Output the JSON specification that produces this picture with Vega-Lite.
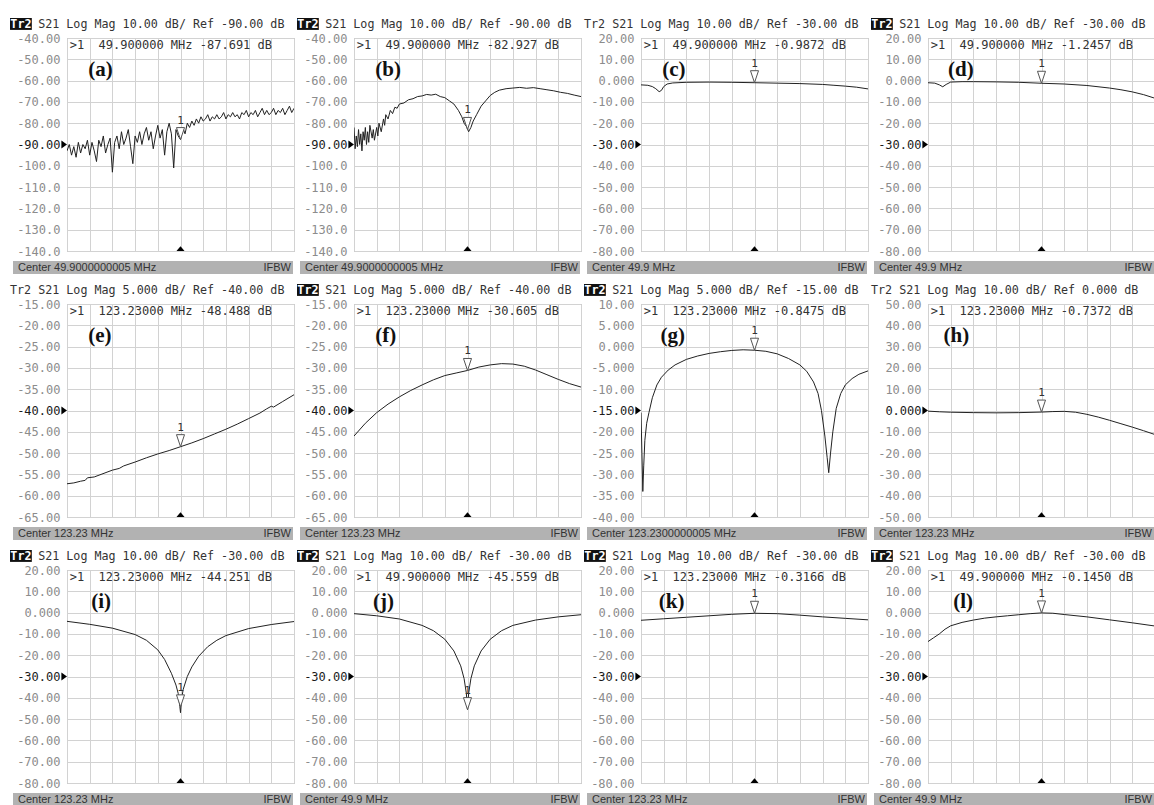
{
"$schema": "https://vega.github.io/schema/vega-lite/v6.json",
"background": "white",
"padding": {"left": 9, "top": 17, "right": 0, "bottom": 0},
"config": {
 "view": {"stroke": "#a8a8a8", "strokeWidth": 1},
 "axisX": {"labels": false, "ticks": false, "domain": false, "grid": true, "gridColor": "#d2d2d2", "tickCount": 10},
 "axisY": {"ticks": false, "tickSize": 0, "domain": false, "grid": true, "gridColor": "#d2d2d2", "tickCount": 10, "labelFont": "DejaVu Sans Mono", "labelFontSize": 12, "labelPadding": 7, "minExtent": 57, "maxExtent": 57, "labelFlush": false, "labelOverlap": false, "labelBound": false,
   "labelExpr": "abs(datum.value) < 1e-9 ? '0.000' : (datum.value < 0 ? '-' : '') + (abs(datum.value) >= 100 ? format(abs(datum.value), '.1f') : abs(datum.value) >= 10 ? format(abs(datum.value), '.2f') : format(abs(datum.value), '.3f'))"},
 "line": {"color": "#222222", "strokeWidth": 1}
},
"datasets": {
 "a": [{"x":0,"y":-93},{"x":0.1,"y":-90},{"x":0.2,"y":-95},{"x":0.3,"y":-91},{"x":0.4,"y":-96},{"x":0.5,"y":-89},{"x":0.6,"y":-94},{"x":0.7,"y":-90},{"x":0.8,"y":-92},{"x":0.9,"y":-88},{"x":1.0,"y":-95},{"x":1.1,"y":-89},{"x":1.2,"y":-93},{"x":1.3,"y":-98},{"x":1.4,"y":-88},{"x":1.5,"y":-91},{"x":1.6,"y":-86},{"x":1.7,"y":-94},{"x":1.8,"y":-90},{"x":1.9,"y":-87},{"x":2.0,"y":-103},{"x":2.1,"y":-89},{"x":2.2,"y":-86},{"x":2.3,"y":-92},{"x":2.4,"y":-84},{"x":2.5,"y":-90},{"x":2.6,"y":-87},{"x":2.7,"y":-83},{"x":2.8,"y":-91},{"x":2.9,"y":-99},{"x":3.0,"y":-86},{"x":3.1,"y":-89},{"x":3.2,"y":-84},{"x":3.3,"y":-90},{"x":3.4,"y":-85},{"x":3.5,"y":-82},{"x":3.6,"y":-88},{"x":3.7,"y":-84},{"x":3.8,"y":-92},{"x":3.9,"y":-86},{"x":4.0,"y":-81},{"x":4.1,"y":-87},{"x":4.2,"y":-83},{"x":4.3,"y":-95},{"x":4.4,"y":-84},{"x":4.5,"y":-80},{"x":4.6,"y":-85},{"x":4.7,"y":-101},{"x":4.8,"y":-83},{"x":4.9,"y":-86},{"x":5.0,"y":-87.7},{"x":5.1,"y":-82},{"x":5.2,"y":-85},{"x":5.3,"y":-80},{"x":5.4,"y":-82},{"x":5.5,"y":-79},{"x":5.6,"y":-81},{"x":5.7,"y":-78},{"x":5.8,"y":-80},{"x":5.9,"y":-77},{"x":6.0,"y":-79},{"x":6.1,"y":-78},{"x":6.2,"y":-76},{"x":6.3,"y":-79},{"x":6.4,"y":-77},{"x":6.5,"y":-78},{"x":6.6,"y":-76},{"x":6.7,"y":-78},{"x":6.8,"y":-77},{"x":6.9,"y":-75},{"x":7.0,"y":-78},{"x":7.1,"y":-76},{"x":7.2,"y":-77},{"x":7.3,"y":-75},{"x":7.4,"y":-77},{"x":7.5,"y":-76},{"x":7.6,"y":-78},{"x":7.7,"y":-75},{"x":7.8,"y":-76},{"x":7.9,"y":-74},{"x":8.0,"y":-77},{"x":8.1,"y":-75},{"x":8.2,"y":-76},{"x":8.3,"y":-74},{"x":8.4,"y":-77},{"x":8.5,"y":-75},{"x":8.6,"y":-73},{"x":8.7,"y":-76},{"x":8.8,"y":-74},{"x":8.9,"y":-76},{"x":9.0,"y":-75},{"x":9.1,"y":-73},{"x":9.2,"y":-76},{"x":9.3,"y":-74},{"x":9.4,"y":-75},{"x":9.5,"y":-73},{"x":9.6,"y":-76},{"x":9.7,"y":-74},{"x":9.8,"y":-72},{"x":9.9,"y":-75},{"x":10.0,"y":-73}],
 "b": [{"x":0,"y":-82},{"x":0.05,"y":-92},{"x":0.1,"y":-86},{"x":0.15,"y":-91},{"x":0.2,"y":-83},{"x":0.25,"y":-90},{"x":0.3,"y":-85},{"x":0.35,"y":-93},{"x":0.4,"y":-84},{"x":0.45,"y":-88},{"x":0.5,"y":-82},{"x":0.55,"y":-90},{"x":0.6,"y":-84},{"x":0.65,"y":-89},{"x":0.7,"y":-81},{"x":0.8,"y":-87},{"x":0.85,"y":-83},{"x":0.9,"y":-88},{"x":1.0,"y":-82},{"x":1.05,"y":-86},{"x":1.1,"y":-80},{"x":1.2,"y":-84},{"x":1.3,"y":-78},{"x":1.35,"y":-81},{"x":1.4,"y":-76},{"x":1.5,"y":-78},{"x":1.6,"y":-74},{"x":1.7,"y":-75.5},{"x":1.8,"y":-72.5},{"x":1.9,"y":-73},{"x":2.0,"y":-71},{"x":2.2,"y":-70.5},{"x":2.4,"y":-69},{"x":2.6,"y":-68.5},{"x":2.8,"y":-67.5},{"x":3.0,"y":-67.2},{"x":3.2,"y":-66.5},{"x":3.4,"y":-66.8},{"x":3.6,"y":-66.4},{"x":3.8,"y":-67.5},{"x":4.0,"y":-68},{"x":4.2,"y":-69.5},{"x":4.4,"y":-71},{"x":4.6,"y":-74},{"x":4.75,"y":-77},{"x":4.85,"y":-80},{"x":4.95,"y":-81.5},{"x":5.05,"y":-84},{"x":5.15,"y":-82},{"x":5.25,"y":-79},{"x":5.4,"y":-76},{"x":5.6,"y":-72},{"x":5.8,"y":-69.5},{"x":6.0,"y":-67},{"x":6.2,"y":-65.5},{"x":6.4,"y":-64.5},{"x":6.7,"y":-63.8},{"x":7.0,"y":-63.5},{"x":7.3,"y":-63.2},{"x":7.6,"y":-63.6},{"x":7.9,"y":-63.3},{"x":8.2,"y":-63.8},{"x":8.5,"y":-64.3},{"x":8.8,"y":-64.8},{"x":9.1,"y":-65.5},{"x":9.4,"y":-66},{"x":9.7,"y":-66.8},{"x":10.0,"y":-67.5}],
 "c": [{"x":0,"y":-2.0},{"x":0.3,"y":-2.2},{"x":0.5,"y":-2.8},{"x":0.65,"y":-3.8},{"x":0.8,"y":-5.2},{"x":0.9,"y":-4.6},{"x":1.0,"y":-2.8},{"x":1.15,"y":-1.6},{"x":1.4,"y":-1.1},{"x":2,"y":-0.8},{"x":3,"y":-0.7},{"x":4,"y":-0.8},{"x":5,"y":-0.99},{"x":6,"y":-1.2},{"x":7,"y":-1.4},{"x":8,"y":-1.8},{"x":8.5,"y":-2.2},{"x":9,"y":-2.6},{"x":9.5,"y":-3.1},{"x":10,"y":-3.9}],
 "d": [{"x":0,"y":-1.0},{"x":0.3,"y":-1.2},{"x":0.5,"y":-2.0},{"x":0.65,"y":-2.9},{"x":0.8,"y":-1.8},{"x":1.0,"y":-0.7},{"x":1.5,"y":-0.5},{"x":2,"y":-0.5},{"x":3,"y":-0.6},{"x":4,"y":-0.8},{"x":5,"y":-1.25},{"x":6,"y":-1.6},{"x":7,"y":-2.3},{"x":8,"y":-3.5},{"x":8.5,"y":-4.3},{"x":9,"y":-5.3},{"x":9.5,"y":-6.6},{"x":10,"y":-8.3}],
 "e": [{"x":0,"y":-57.2},{"x":0.3,"y":-57.0},{"x":0.6,"y":-56.6},{"x":0.8,"y":-56.4},{"x":0.9,"y":-55.8},{"x":1.2,"y":-55.6},{"x":1.5,"y":-55.0},{"x":2,"y":-54.0},{"x":2.3,"y":-53.6},{"x":2.5,"y":-53.0},{"x":3,"y":-52.1},{"x":3.5,"y":-51.1},{"x":4,"y":-50.2},{"x":4.5,"y":-49.4},{"x":5,"y":-48.5},{"x":5.5,"y":-47.6},{"x":6,"y":-46.6},{"x":6.5,"y":-45.5},{"x":7,"y":-44.4},{"x":7.5,"y":-43.2},{"x":8,"y":-41.9},{"x":8.5,"y":-40.6},{"x":8.8,"y":-39.6},{"x":9,"y":-39.0},{"x":9.1,"y":-39.2},{"x":9.5,"y":-37.9},{"x":10,"y":-36.3}],
 "f": [{"x":0,"y":-46},{"x":0.5,"y":-43},{"x":1,"y":-40.5},{"x":1.5,"y":-38.5},{"x":2,"y":-36.8},{"x":2.5,"y":-35.3},{"x":3,"y":-34},{"x":3.5,"y":-32.8},{"x":4,"y":-31.8},{"x":4.5,"y":-31.2},{"x":5,"y":-30.6},{"x":5.5,"y":-29.8},{"x":6,"y":-29.3},{"x":6.5,"y":-29.0},{"x":7,"y":-29.1},{"x":7.5,"y":-29.6},{"x":8,"y":-30.5},{"x":8.5,"y":-31.6},{"x":9,"y":-32.7},{"x":9.5,"y":-33.7},{"x":10,"y":-34.5}],
 "g": [{"x":0,"y":-15.5},{"x":0.04,"y":-25},{"x":0.08,"y":-34},{"x":0.12,"y":-28},{"x":0.17,"y":-22},{"x":0.25,"y":-18},{"x":0.35,"y":-15.5},{"x":0.5,"y":-12},{"x":0.7,"y":-9},{"x":0.9,"y":-7.2},{"x":1.2,"y":-5.5},{"x":1.5,"y":-4.3},{"x":2.0,"y":-3.0},{"x":2.5,"y":-2.2},{"x":3.0,"y":-1.6},{"x":3.5,"y":-1.2},{"x":4.0,"y":-0.9},{"x":4.5,"y":-0.75},{"x":5.0,"y":-0.85},{"x":5.5,"y":-1.1},{"x":6.0,"y":-1.7},{"x":6.5,"y":-2.8},{"x":7.0,"y":-4.3},{"x":7.3,"y":-5.8},{"x":7.6,"y":-8.3},{"x":7.8,"y":-11},{"x":7.95,"y":-15},{"x":8.1,"y":-21},{"x":8.2,"y":-26},{"x":8.27,"y":-29.6},{"x":8.35,"y":-25},{"x":8.45,"y":-20},{"x":8.6,"y":-14.5},{"x":8.8,"y":-11},{"x":9.0,"y":-9},{"x":9.3,"y":-7.5},{"x":9.6,"y":-6.5},{"x":10,"y":-5.7}],
 "h": [{"x":0,"y":-0.3},{"x":0.5,"y":-0.6},{"x":1,"y":-0.8},{"x":2,"y":-1.0},{"x":3,"y":-1.1},{"x":4,"y":-1.0},{"x":5,"y":-0.74},{"x":5.5,"y":-0.5},{"x":6,"y":-0.4},{"x":6.5,"y":-0.8},{"x":7,"y":-1.8},{"x":7.5,"y":-3.1},{"x":8,"y":-4.6},{"x":8.5,"y":-6.2},{"x":9,"y":-7.8},{"x":9.5,"y":-9.5},{"x":10,"y":-11.3}],
 "i": [{"x":0,"y":-4.1},{"x":1,"y":-5.5},{"x":2,"y":-7.3},{"x":3,"y":-10.3},{"x":3.5,"y":-13.0},{"x":4,"y":-17.5},{"x":4.3,"y":-22},{"x":4.6,"y":-28.5},{"x":4.8,"y":-34},{"x":4.9,"y":-38},{"x":4.97,"y":-44},{"x":5.0,"y":-47},{"x":5.04,"y":-41},{"x":5.12,"y":-36},{"x":5.3,"y":-30},{"x":5.5,"y":-25.5},{"x":5.8,"y":-20.5},{"x":6.2,"y":-16},{"x":6.6,"y":-13},{"x":7,"y":-10.8},{"x":8,"y":-7.5},{"x":9,"y":-5.6},{"x":10,"y":-4.2}],
 "j": [{"x":0,"y":-0.5},{"x":1,"y":-1.5},{"x":2,"y":-3},{"x":3,"y":-6},{"x":3.5,"y":-8.5},{"x":4,"y":-12.5},{"x":4.4,"y":-18},{"x":4.7,"y":-25},{"x":4.85,"y":-31},{"x":4.95,"y":-38},{"x":5.0,"y":-45.6},{"x":5.05,"y":-38},{"x":5.15,"y":-31},{"x":5.3,"y":-25},{"x":5.6,"y":-18},{"x":6,"y":-12.5},{"x":6.5,"y":-8.5},{"x":7,"y":-6},{"x":8,"y":-3.5},{"x":9,"y":-2},{"x":10,"y":-1}],
 "k": [{"x":0,"y":-3.6},{"x":1,"y":-2.9},{"x":2,"y":-2.2},{"x":3,"y":-1.5},{"x":4,"y":-0.8},{"x":5,"y":-0.32},{"x":6,"y":-0.5},{"x":7,"y":-1.2},{"x":8,"y":-2.0},{"x":9,"y":-2.7},{"x":10,"y":-3.4}],
 "l": [{"x":0,"y":-13.6},{"x":0.25,"y":-11.8},{"x":0.5,"y":-10},{"x":0.75,"y":-7.8},{"x":1.0,"y":-6.2},{"x":1.5,"y":-4.6},{"x":2,"y":-3.5},{"x":2.5,"y":-2.6},{"x":3,"y":-2},{"x":3.5,"y":-1.5},{"x":4,"y":-1},{"x":4.5,"y":-0.5},{"x":5,"y":-0.145},{"x":5.5,"y":-0.3},{"x":6,"y":-0.9},{"x":7,"y":-2},{"x":8,"y":-3.4},{"x":9,"y":-4.8},{"x":10,"y":-6.3}]
},
"vconcat": [
 {"hconcat": [
  {"vconcat": [
   {"width": 227, "height": 213,
    "layer": [
     {"data": {"name": "a"}, "mark": {"type": "line", "clip": true},
      "encoding": {"x": {"field": "x", "type": "quantitative", "scale": {"domain": [0, 10], "nice": false, "zero": false}, "axis": {"title": null}},
                   "y": {"field": "y", "type": "quantitative", "scale": {"domain": [-140, -40], "nice": false, "zero": false}, "axis": {"title": null, "labelColor": {"condition": {"test": "datum.value == -90", "value": "#1a1a1a"}, "value": "#8c8c8c"}}}}},
     {"data": {"values": [{}]}, "mark": {"type": "rect", "color": "#111111"}, "encoding": {"x": {"datum": -2.51}, "x2": {"datum": -1.55}, "y": {"datum": -30.6}, "y2": {"datum": -36.2}}},
     {"data": {"values": [{}]}, "mark": {"type": "text", "font": "DejaVu Sans Mono", "fontSize": 11.7, "fontWeight": "bold", "color": "#ffffff", "text": "Tr2"}, "encoding": {"x": {"datum": -2.03}, "y": {"datum": -33.4}}},
     {"data": {"values": [{}]}, "mark": {"type": "text", "align": "left", "font": "DejaVu Sans Mono", "fontSize": 11.7, "color": "#333333", "text": "S21 Log Mag 10.00 dB/ Ref -90.00 dB"}, "encoding": {"x": {"datum": -1.27}, "y": {"datum": -33.4}}},
     {"data": {"values": [{}]}, "mark": {"type": "text", "font": "Liberation Serif", "fontWeight": "bold", "fontSize": 21, "color": "#111111", "text": "(a)"}, "encoding": {"x": {"datum": 1.48}, "y": {"datum": -55.2}}},
     {"data": {"values": [{}]}, "mark": {"type": "text", "align": "left", "font": "DejaVu Sans Mono", "fontSize": 12, "color": "#333333", "text": ">1\u00a0\u00a049.900000 MHz -87.691 dB"}, "encoding": {"x": {"datum": 0.12}, "y": {"datum": -43.3}}},
     {"data": {"values": [{"x": 5, "y": -87.691}]}, "mark": {"type": "point", "shape": "M-0.67,-2L0.67,-2L0,0Z", "size": 144, "filled": true, "fill": "white", "stroke": "#555555", "strokeWidth": 1, "opacity": 1}, "encoding": {"x": {"field": "x", "type": "quantitative"}, "y": {"field": "y", "type": "quantitative"}}},
     {"data": {"values": [{"x": 5, "y": -87.691}]}, "mark": {"type": "text", "dy": -19, "font": "DejaVu Sans Mono", "fontSize": 11, "color": "#333333", "text": "1"}, "encoding": {"x": {"field": "x", "type": "quantitative"}, "y": {"field": "y", "type": "quantitative"}}},
     {"data": {"values": [{}]}, "mark": {"type": "point", "shape": "M-1.4,-1L0,0L-1.4,1Z", "size": 64, "filled": true, "color": "#000000", "opacity": 1}, "encoding": {"x": {"datum": 0}, "y": {"datum": -90}}},
     {"data": {"values": [{}]}, "mark": {"type": "point", "shape": "M-1,0L1,0L0,-1.2Z", "size": 64, "filled": true, "color": "#000000", "opacity": 1}, "encoding": {"x": {"datum": 5}, "y": {"datum": -140}}}
    ]},
   {"width": 227, "height": 13, "view": {"stroke": null},
    "layer": [
     {"data": {"values": [{}]}, "mark": {"type": "rect", "color": "#b2b2b2"}, "encoding": {"x": {"datum": 0, "scale": {"domain": [0, 1], "range": [-54, 226]}, "axis": null}, "x2": {"datum": 1}, "y": {"datum": 0, "scale": {"domain": [0, 1]}, "axis": null}, "y2": {"datum": 1}}},
     {"data": {"values": [{}]}, "mark": {"type": "text", "align": "left", "dx": 5, "font": "Liberation Sans", "fontSize": 11, "color": "#333333", "text": "Center 49.9000000005 MHz"}, "encoding": {"x": {"datum": 0}, "y": {"datum": 0.5}}},
     {"data": {"values": [{}]}, "mark": {"type": "text", "align": "right", "dx": -2, "font": "Liberation Sans", "fontSize": 11, "color": "#333333", "text": "IFBW"}, "encoding": {"x": {"datum": 1}, "y": {"datum": 0.5}}}
    ]}
  ], "spacing": 3},
  {"vconcat": [
   {"width": 227, "height": 213,
    "layer": [
     {"data": {"name": "b"}, "mark": {"type": "line", "clip": true},
      "encoding": {"x": {"field": "x", "type": "quantitative", "scale": {"domain": [0, 10], "nice": false, "zero": false}, "axis": {"title": null}},
                   "y": {"field": "y", "type": "quantitative", "scale": {"domain": [-140, -40], "nice": false, "zero": false}, "axis": {"title": null, "labelColor": {"condition": {"test": "datum.value == -90", "value": "#1a1a1a"}, "value": "#8c8c8c"}}}}},
     {"data": {"values": [{}]}, "mark": {"type": "rect", "color": "#111111"}, "encoding": {"x": {"datum": -2.51}, "x2": {"datum": -1.55}, "y": {"datum": -30.6}, "y2": {"datum": -36.2}}},
     {"data": {"values": [{}]}, "mark": {"type": "text", "font": "DejaVu Sans Mono", "fontSize": 11.7, "fontWeight": "bold", "color": "#ffffff", "text": "Tr2"}, "encoding": {"x": {"datum": -2.03}, "y": {"datum": -33.4}}},
     {"data": {"values": [{}]}, "mark": {"type": "text", "align": "left", "font": "DejaVu Sans Mono", "fontSize": 11.7, "color": "#333333", "text": "S21 Log Mag 10.00 dB/ Ref -90.00 dB"}, "encoding": {"x": {"datum": -1.27}, "y": {"datum": -33.4}}},
     {"data": {"values": [{}]}, "mark": {"type": "text", "font": "Liberation Serif", "fontWeight": "bold", "fontSize": 21, "color": "#111111", "text": "(b)"}, "encoding": {"x": {"datum": 1.5}, "y": {"datum": -55.2}}},
     {"data": {"values": [{}]}, "mark": {"type": "text", "align": "left", "font": "DejaVu Sans Mono", "fontSize": 12, "color": "#333333", "text": ">1\u00a0\u00a049.900000 MHz -82.927 dB"}, "encoding": {"x": {"datum": 0.12}, "y": {"datum": -43.3}}},
     {"data": {"values": [{"x": 5, "y": -82.927}]}, "mark": {"type": "point", "shape": "M-0.67,-2L0.67,-2L0,0Z", "size": 144, "filled": true, "fill": "white", "stroke": "#555555", "strokeWidth": 1, "opacity": 1}, "encoding": {"x": {"field": "x", "type": "quantitative"}, "y": {"field": "y", "type": "quantitative"}}},
     {"data": {"values": [{"x": 5, "y": -82.927}]}, "mark": {"type": "text", "dy": -19, "font": "DejaVu Sans Mono", "fontSize": 11, "color": "#333333", "text": "1"}, "encoding": {"x": {"field": "x", "type": "quantitative"}, "y": {"field": "y", "type": "quantitative"}}},
     {"data": {"values": [{}]}, "mark": {"type": "point", "shape": "M-1.4,-1L0,0L-1.4,1Z", "size": 64, "filled": true, "color": "#000000", "opacity": 1}, "encoding": {"x": {"datum": 0}, "y": {"datum": -90}}},
     {"data": {"values": [{}]}, "mark": {"type": "point", "shape": "M-1,0L1,0L0,-1.2Z", "size": 64, "filled": true, "color": "#000000", "opacity": 1}, "encoding": {"x": {"datum": 5}, "y": {"datum": -140}}}
    ]},
   {"width": 227, "height": 13, "view": {"stroke": null},
    "layer": [
     {"data": {"values": [{}]}, "mark": {"type": "rect", "color": "#b2b2b2"}, "encoding": {"x": {"datum": 0, "scale": {"domain": [0, 1], "range": [-54, 226]}, "axis": null}, "x2": {"datum": 1}, "y": {"datum": 0, "scale": {"domain": [0, 1]}, "axis": null}, "y2": {"datum": 1}}},
     {"data": {"values": [{}]}, "mark": {"type": "text", "align": "left", "dx": 5, "font": "Liberation Sans", "fontSize": 11, "color": "#333333", "text": "Center 49.9000000005 MHz"}, "encoding": {"x": {"datum": 0}, "y": {"datum": 0.5}}},
     {"data": {"values": [{}]}, "mark": {"type": "text", "align": "right", "dx": -2, "font": "Liberation Sans", "fontSize": 11, "color": "#333333", "text": "IFBW"}, "encoding": {"x": {"datum": 1}, "y": {"datum": 0.5}}}
    ]}
  ], "spacing": 3},
  {"vconcat": [
   {"width": 227, "height": 213,
    "layer": [
     {"data": {"name": "c"}, "mark": {"type": "line", "clip": true},
      "encoding": {"x": {"field": "x", "type": "quantitative", "scale": {"domain": [0, 10], "nice": false, "zero": false}, "axis": {"title": null}},
                   "y": {"field": "y", "type": "quantitative", "scale": {"domain": [-80, 20], "nice": false, "zero": false}, "axis": {"title": null, "labelColor": {"condition": {"test": "datum.value == -30", "value": "#1a1a1a"}, "value": "#8c8c8c"}}}}},
     {"data": {"values": [{}]}, "mark": {"type": "text", "align": "left", "font": "DejaVu Sans Mono", "fontSize": 11.7, "color": "#333333", "text": "Tr2 S21 Log Mag 10.00 dB/ Ref -30.00 dB"}, "encoding": {"x": {"datum": -2.51}, "y": {"datum": 26.6}}},
     {"data": {"values": [{}]}, "mark": {"type": "text", "font": "Liberation Serif", "fontWeight": "bold", "fontSize": 21, "color": "#111111", "text": "(c)"}, "encoding": {"x": {"datum": 1.45}, "y": {"datum": 4.8}}},
     {"data": {"values": [{}]}, "mark": {"type": "text", "align": "left", "font": "DejaVu Sans Mono", "fontSize": 12, "color": "#333333", "text": ">1\u00a0\u00a049.900000 MHz -0.9872 dB"}, "encoding": {"x": {"datum": 0.12}, "y": {"datum": 16.7}}},
     {"data": {"values": [{"x": 5, "y": -0.9872}]}, "mark": {"type": "point", "shape": "M-0.67,-2L0.67,-2L0,0Z", "size": 144, "filled": true, "fill": "white", "stroke": "#555555", "strokeWidth": 1, "opacity": 1}, "encoding": {"x": {"field": "x", "type": "quantitative"}, "y": {"field": "y", "type": "quantitative"}}},
     {"data": {"values": [{"x": 5, "y": -0.9872}]}, "mark": {"type": "text", "dy": -19, "font": "DejaVu Sans Mono", "fontSize": 11, "color": "#333333", "text": "1"}, "encoding": {"x": {"field": "x", "type": "quantitative"}, "y": {"field": "y", "type": "quantitative"}}},
     {"data": {"values": [{}]}, "mark": {"type": "point", "shape": "M-1.4,-1L0,0L-1.4,1Z", "size": 64, "filled": true, "color": "#000000", "opacity": 1}, "encoding": {"x": {"datum": 0}, "y": {"datum": -30}}},
     {"data": {"values": [{}]}, "mark": {"type": "point", "shape": "M-1,0L1,0L0,-1.2Z", "size": 64, "filled": true, "color": "#000000", "opacity": 1}, "encoding": {"x": {"datum": 5}, "y": {"datum": -80}}}
    ]},
   {"width": 227, "height": 13, "view": {"stroke": null},
    "layer": [
     {"data": {"values": [{}]}, "mark": {"type": "rect", "color": "#b2b2b2"}, "encoding": {"x": {"datum": 0, "scale": {"domain": [0, 1], "range": [-54, 226]}, "axis": null}, "x2": {"datum": 1}, "y": {"datum": 0, "scale": {"domain": [0, 1]}, "axis": null}, "y2": {"datum": 1}}},
     {"data": {"values": [{}]}, "mark": {"type": "text", "align": "left", "dx": 5, "font": "Liberation Sans", "fontSize": 11, "color": "#333333", "text": "Center 49.9 MHz"}, "encoding": {"x": {"datum": 0}, "y": {"datum": 0.5}}},
     {"data": {"values": [{}]}, "mark": {"type": "text", "align": "right", "dx": -2, "font": "Liberation Sans", "fontSize": 11, "color": "#333333", "text": "IFBW"}, "encoding": {"x": {"datum": 1}, "y": {"datum": 0.5}}}
    ]}
  ], "spacing": 3},
  {"vconcat": [
   {"width": 227, "height": 213,
    "layer": [
     {"data": {"name": "d"}, "mark": {"type": "line", "clip": true},
      "encoding": {"x": {"field": "x", "type": "quantitative", "scale": {"domain": [0, 10], "nice": false, "zero": false}, "axis": {"title": null}},
                   "y": {"field": "y", "type": "quantitative", "scale": {"domain": [-80, 20], "nice": false, "zero": false}, "axis": {"title": null, "labelColor": {"condition": {"test": "datum.value == -30", "value": "#1a1a1a"}, "value": "#8c8c8c"}}}}},
     {"data": {"values": [{}]}, "mark": {"type": "rect", "color": "#111111"}, "encoding": {"x": {"datum": -2.51}, "x2": {"datum": -1.55}, "y": {"datum": 29.4}, "y2": {"datum": 23.8}}},
     {"data": {"values": [{}]}, "mark": {"type": "text", "font": "DejaVu Sans Mono", "fontSize": 11.7, "fontWeight": "bold", "color": "#ffffff", "text": "Tr2"}, "encoding": {"x": {"datum": -2.03}, "y": {"datum": 26.6}}},
     {"data": {"values": [{}]}, "mark": {"type": "text", "align": "left", "font": "DejaVu Sans Mono", "fontSize": 11.7, "color": "#333333", "text": "S21 Log Mag 10.00 dB/ Ref -30.00 dB"}, "encoding": {"x": {"datum": -1.27}, "y": {"datum": 26.6}}},
     {"data": {"values": [{}]}, "mark": {"type": "text", "font": "Liberation Serif", "fontWeight": "bold", "fontSize": 21, "color": "#111111", "text": "(d)"}, "encoding": {"x": {"datum": 1.45}, "y": {"datum": 4.8}}},
     {"data": {"values": [{}]}, "mark": {"type": "text", "align": "left", "font": "DejaVu Sans Mono", "fontSize": 12, "color": "#333333", "text": ">1\u00a0\u00a049.900000 MHz -1.2457 dB"}, "encoding": {"x": {"datum": 0.12}, "y": {"datum": 16.7}}},
     {"data": {"values": [{"x": 5, "y": -1.2457}]}, "mark": {"type": "point", "shape": "M-0.67,-2L0.67,-2L0,0Z", "size": 144, "filled": true, "fill": "white", "stroke": "#555555", "strokeWidth": 1, "opacity": 1}, "encoding": {"x": {"field": "x", "type": "quantitative"}, "y": {"field": "y", "type": "quantitative"}}},
     {"data": {"values": [{"x": 5, "y": -1.2457}]}, "mark": {"type": "text", "dy": -19, "font": "DejaVu Sans Mono", "fontSize": 11, "color": "#333333", "text": "1"}, "encoding": {"x": {"field": "x", "type": "quantitative"}, "y": {"field": "y", "type": "quantitative"}}},
     {"data": {"values": [{}]}, "mark": {"type": "point", "shape": "M-1.4,-1L0,0L-1.4,1Z", "size": 64, "filled": true, "color": "#000000", "opacity": 1}, "encoding": {"x": {"datum": 0}, "y": {"datum": -30}}},
     {"data": {"values": [{}]}, "mark": {"type": "point", "shape": "M-1,0L1,0L0,-1.2Z", "size": 64, "filled": true, "color": "#000000", "opacity": 1}, "encoding": {"x": {"datum": 5}, "y": {"datum": -80}}}
    ]},
   {"width": 227, "height": 13, "view": {"stroke": null},
    "layer": [
     {"data": {"values": [{}]}, "mark": {"type": "rect", "color": "#b2b2b2"}, "encoding": {"x": {"datum": 0, "scale": {"domain": [0, 1], "range": [-54, 226]}, "axis": null}, "x2": {"datum": 1}, "y": {"datum": 0, "scale": {"domain": [0, 1]}, "axis": null}, "y2": {"datum": 1}}},
     {"data": {"values": [{}]}, "mark": {"type": "text", "align": "left", "dx": 5, "font": "Liberation Sans", "fontSize": 11, "color": "#333333", "text": "Center 49.9 MHz"}, "encoding": {"x": {"datum": 0}, "y": {"datum": 0.5}}},
     {"data": {"values": [{}]}, "mark": {"type": "text", "align": "right", "dx": -2, "font": "Liberation Sans", "fontSize": 11, "color": "#333333", "text": "IFBW"}, "encoding": {"x": {"datum": 1}, "y": {"datum": 0.5}}}
    ]}
  ], "spacing": 3}
 ], "spacing": 1},
 {"hconcat": [
  {"vconcat": [
   {"width": 227, "height": 213,
    "layer": [
     {"data": {"name": "e"}, "mark": {"type": "line", "clip": true},
      "encoding": {"x": {"field": "x", "type": "quantitative", "scale": {"domain": [0, 10], "nice": false, "zero": false}, "axis": {"title": null}},
                   "y": {"field": "y", "type": "quantitative", "scale": {"domain": [-65, -15], "nice": false, "zero": false}, "axis": {"title": null, "labelColor": {"condition": {"test": "datum.value == -40", "value": "#1a1a1a"}, "value": "#8c8c8c"}}}}},
     {"data": {"values": [{}]}, "mark": {"type": "text", "align": "left", "font": "DejaVu Sans Mono", "fontSize": 11.7, "color": "#333333", "text": "Tr2 S21 Log Mag 5.000 dB/ Ref -40.00 dB"}, "encoding": {"x": {"datum": -2.51}, "y": {"datum": -11.7}}},
     {"data": {"values": [{}]}, "mark": {"type": "text", "font": "Liberation Serif", "fontWeight": "bold", "fontSize": 21, "color": "#111111", "text": "(e)"}, "encoding": {"x": {"datum": 1.45}, "y": {"datum": -22.6}}},
     {"data": {"values": [{}]}, "mark": {"type": "text", "align": "left", "font": "DejaVu Sans Mono", "fontSize": 12, "color": "#333333", "text": ">1\u00a0\u00a0123.23000 MHz -48.488 dB"}, "encoding": {"x": {"datum": 0.12}, "y": {"datum": -16.65}}},
     {"data": {"values": [{"x": 5, "y": -48.488}]}, "mark": {"type": "point", "shape": "M-0.67,-2L0.67,-2L0,0Z", "size": 144, "filled": true, "fill": "white", "stroke": "#555555", "strokeWidth": 1, "opacity": 1}, "encoding": {"x": {"field": "x", "type": "quantitative"}, "y": {"field": "y", "type": "quantitative"}}},
     {"data": {"values": [{"x": 5, "y": -48.488}]}, "mark": {"type": "text", "dy": -19, "font": "DejaVu Sans Mono", "fontSize": 11, "color": "#333333", "text": "1"}, "encoding": {"x": {"field": "x", "type": "quantitative"}, "y": {"field": "y", "type": "quantitative"}}},
     {"data": {"values": [{}]}, "mark": {"type": "point", "shape": "M-1.4,-1L0,0L-1.4,1Z", "size": 64, "filled": true, "color": "#000000", "opacity": 1}, "encoding": {"x": {"datum": 0}, "y": {"datum": -40}}},
     {"data": {"values": [{}]}, "mark": {"type": "point", "shape": "M-1,0L1,0L0,-1.2Z", "size": 64, "filled": true, "color": "#000000", "opacity": 1}, "encoding": {"x": {"datum": 5}, "y": {"datum": -65}}}
    ]},
   {"width": 227, "height": 13, "view": {"stroke": null},
    "layer": [
     {"data": {"values": [{}]}, "mark": {"type": "rect", "color": "#b2b2b2"}, "encoding": {"x": {"datum": 0, "scale": {"domain": [0, 1], "range": [-54, 226]}, "axis": null}, "x2": {"datum": 1}, "y": {"datum": 0, "scale": {"domain": [0, 1]}, "axis": null}, "y2": {"datum": 1}}},
     {"data": {"values": [{}]}, "mark": {"type": "text", "align": "left", "dx": 5, "font": "Liberation Sans", "fontSize": 11, "color": "#333333", "text": "Center 123.23 MHz"}, "encoding": {"x": {"datum": 0}, "y": {"datum": 0.5}}},
     {"data": {"values": [{}]}, "mark": {"type": "text", "align": "right", "dx": -2, "font": "Liberation Sans", "fontSize": 11, "color": "#333333", "text": "IFBW"}, "encoding": {"x": {"datum": 1}, "y": {"datum": 0.5}}}
    ]}
  ], "spacing": 3},
  {"vconcat": [
   {"width": 227, "height": 213,
    "layer": [
     {"data": {"name": "f"}, "mark": {"type": "line", "clip": true},
      "encoding": {"x": {"field": "x", "type": "quantitative", "scale": {"domain": [0, 10], "nice": false, "zero": false}, "axis": {"title": null}},
                   "y": {"field": "y", "type": "quantitative", "scale": {"domain": [-65, -15], "nice": false, "zero": false}, "axis": {"title": null, "labelColor": {"condition": {"test": "datum.value == -40", "value": "#1a1a1a"}, "value": "#8c8c8c"}}}}},
     {"data": {"values": [{}]}, "mark": {"type": "rect", "color": "#111111"}, "encoding": {"x": {"datum": -2.51}, "x2": {"datum": -1.55}, "y": {"datum": -10.3}, "y2": {"datum": -13.1}}},
     {"data": {"values": [{}]}, "mark": {"type": "text", "font": "DejaVu Sans Mono", "fontSize": 11.7, "fontWeight": "bold", "color": "#ffffff", "text": "Tr2"}, "encoding": {"x": {"datum": -2.03}, "y": {"datum": -11.7}}},
     {"data": {"values": [{}]}, "mark": {"type": "text", "align": "left", "font": "DejaVu Sans Mono", "fontSize": 11.7, "color": "#333333", "text": "S21 Log Mag 5.000 dB/ Ref -40.00 dB"}, "encoding": {"x": {"datum": -1.27}, "y": {"datum": -11.7}}},
     {"data": {"values": [{}]}, "mark": {"type": "text", "font": "Liberation Serif", "fontWeight": "bold", "fontSize": 21, "color": "#111111", "text": "(f)"}, "encoding": {"x": {"datum": 1.4}, "y": {"datum": -22.6}}},
     {"data": {"values": [{}]}, "mark": {"type": "text", "align": "left", "font": "DejaVu Sans Mono", "fontSize": 12, "color": "#333333", "text": ">1\u00a0\u00a0123.23000 MHz -30.605 dB"}, "encoding": {"x": {"datum": 0.12}, "y": {"datum": -16.65}}},
     {"data": {"values": [{"x": 5, "y": -30.605}]}, "mark": {"type": "point", "shape": "M-0.67,-2L0.67,-2L0,0Z", "size": 144, "filled": true, "fill": "white", "stroke": "#555555", "strokeWidth": 1, "opacity": 1}, "encoding": {"x": {"field": "x", "type": "quantitative"}, "y": {"field": "y", "type": "quantitative"}}},
     {"data": {"values": [{"x": 5, "y": -30.605}]}, "mark": {"type": "text", "dy": -19, "font": "DejaVu Sans Mono", "fontSize": 11, "color": "#333333", "text": "1"}, "encoding": {"x": {"field": "x", "type": "quantitative"}, "y": {"field": "y", "type": "quantitative"}}},
     {"data": {"values": [{}]}, "mark": {"type": "point", "shape": "M-1.4,-1L0,0L-1.4,1Z", "size": 64, "filled": true, "color": "#000000", "opacity": 1}, "encoding": {"x": {"datum": 0}, "y": {"datum": -40}}},
     {"data": {"values": [{}]}, "mark": {"type": "point", "shape": "M-1,0L1,0L0,-1.2Z", "size": 64, "filled": true, "color": "#000000", "opacity": 1}, "encoding": {"x": {"datum": 5}, "y": {"datum": -65}}}
    ]},
   {"width": 227, "height": 13, "view": {"stroke": null},
    "layer": [
     {"data": {"values": [{}]}, "mark": {"type": "rect", "color": "#b2b2b2"}, "encoding": {"x": {"datum": 0, "scale": {"domain": [0, 1], "range": [-54, 226]}, "axis": null}, "x2": {"datum": 1}, "y": {"datum": 0, "scale": {"domain": [0, 1]}, "axis": null}, "y2": {"datum": 1}}},
     {"data": {"values": [{}]}, "mark": {"type": "text", "align": "left", "dx": 5, "font": "Liberation Sans", "fontSize": 11, "color": "#333333", "text": "Center 123.23 MHz"}, "encoding": {"x": {"datum": 0}, "y": {"datum": 0.5}}},
     {"data": {"values": [{}]}, "mark": {"type": "text", "align": "right", "dx": -2, "font": "Liberation Sans", "fontSize": 11, "color": "#333333", "text": "IFBW"}, "encoding": {"x": {"datum": 1}, "y": {"datum": 0.5}}}
    ]}
  ], "spacing": 3},
  {"vconcat": [
   {"width": 227, "height": 213,
    "layer": [
     {"data": {"name": "g"}, "mark": {"type": "line", "clip": true},
      "encoding": {"x": {"field": "x", "type": "quantitative", "scale": {"domain": [0, 10], "nice": false, "zero": false}, "axis": {"title": null}},
                   "y": {"field": "y", "type": "quantitative", "scale": {"domain": [-40, 10], "nice": false, "zero": false}, "axis": {"title": null, "labelColor": {"condition": {"test": "datum.value == -15", "value": "#1a1a1a"}, "value": "#8c8c8c"}}}}},
     {"data": {"values": [{}]}, "mark": {"type": "rect", "color": "#111111"}, "encoding": {"x": {"datum": -2.51}, "x2": {"datum": -1.55}, "y": {"datum": 14.7}, "y2": {"datum": 11.9}}},
     {"data": {"values": [{}]}, "mark": {"type": "text", "font": "DejaVu Sans Mono", "fontSize": 11.7, "fontWeight": "bold", "color": "#ffffff", "text": "Tr2"}, "encoding": {"x": {"datum": -2.03}, "y": {"datum": 13.3}}},
     {"data": {"values": [{}]}, "mark": {"type": "text", "align": "left", "font": "DejaVu Sans Mono", "fontSize": 11.7, "color": "#333333", "text": "S21 Log Mag 5.000 dB/ Ref -15.00 dB"}, "encoding": {"x": {"datum": -1.27}, "y": {"datum": 13.3}}},
     {"data": {"values": [{}]}, "mark": {"type": "text", "font": "Liberation Serif", "fontWeight": "bold", "fontSize": 21, "color": "#111111", "text": "(g)"}, "encoding": {"x": {"datum": 1.4}, "y": {"datum": 2.4}}},
     {"data": {"values": [{}]}, "mark": {"type": "text", "align": "left", "font": "DejaVu Sans Mono", "fontSize": 12, "color": "#333333", "text": ">1\u00a0\u00a0123.23000 MHz -0.8475 dB"}, "encoding": {"x": {"datum": 0.12}, "y": {"datum": 8.35}}},
     {"data": {"values": [{"x": 5, "y": -0.8475}]}, "mark": {"type": "point", "shape": "M-0.67,-2L0.67,-2L0,0Z", "size": 144, "filled": true, "fill": "white", "stroke": "#555555", "strokeWidth": 1, "opacity": 1}, "encoding": {"x": {"field": "x", "type": "quantitative"}, "y": {"field": "y", "type": "quantitative"}}},
     {"data": {"values": [{"x": 5, "y": -0.8475}]}, "mark": {"type": "text", "dy": -19, "font": "DejaVu Sans Mono", "fontSize": 11, "color": "#333333", "text": "1"}, "encoding": {"x": {"field": "x", "type": "quantitative"}, "y": {"field": "y", "type": "quantitative"}}},
     {"data": {"values": [{}]}, "mark": {"type": "point", "shape": "M-1.4,-1L0,0L-1.4,1Z", "size": 64, "filled": true, "color": "#000000", "opacity": 1}, "encoding": {"x": {"datum": 0}, "y": {"datum": -15}}},
     {"data": {"values": [{}]}, "mark": {"type": "point", "shape": "M-1,0L1,0L0,-1.2Z", "size": 64, "filled": true, "color": "#000000", "opacity": 1}, "encoding": {"x": {"datum": 5}, "y": {"datum": -40}}}
    ]},
   {"width": 227, "height": 13, "view": {"stroke": null},
    "layer": [
     {"data": {"values": [{}]}, "mark": {"type": "rect", "color": "#b2b2b2"}, "encoding": {"x": {"datum": 0, "scale": {"domain": [0, 1], "range": [-54, 226]}, "axis": null}, "x2": {"datum": 1}, "y": {"datum": 0, "scale": {"domain": [0, 1]}, "axis": null}, "y2": {"datum": 1}}},
     {"data": {"values": [{}]}, "mark": {"type": "text", "align": "left", "dx": 5, "font": "Liberation Sans", "fontSize": 11, "color": "#333333", "text": "Center 123.2300000005 MHz"}, "encoding": {"x": {"datum": 0}, "y": {"datum": 0.5}}},
     {"data": {"values": [{}]}, "mark": {"type": "text", "align": "right", "dx": -2, "font": "Liberation Sans", "fontSize": 11, "color": "#333333", "text": "IFBW"}, "encoding": {"x": {"datum": 1}, "y": {"datum": 0.5}}}
    ]}
  ], "spacing": 3},
  {"vconcat": [
   {"width": 227, "height": 213,
    "layer": [
     {"data": {"name": "h"}, "mark": {"type": "line", "clip": true},
      "encoding": {"x": {"field": "x", "type": "quantitative", "scale": {"domain": [0, 10], "nice": false, "zero": false}, "axis": {"title": null}},
                   "y": {"field": "y", "type": "quantitative", "scale": {"domain": [-50, 50], "nice": false, "zero": false}, "axis": {"title": null, "labelColor": {"condition": {"test": "abs(datum.value) < 1e-9", "value": "#1a1a1a"}, "value": "#8c8c8c"}}}}},
     {"data": {"values": [{}]}, "mark": {"type": "text", "align": "left", "font": "DejaVu Sans Mono", "fontSize": 11.7, "color": "#333333", "text": "Tr2 S21 Log Mag 10.00 dB/ Ref 0.000 dB"}, "encoding": {"x": {"datum": -2.51}, "y": {"datum": 56.6}}},
     {"data": {"values": [{}]}, "mark": {"type": "text", "font": "Liberation Serif", "fontWeight": "bold", "fontSize": 21, "color": "#111111", "text": "(h)"}, "encoding": {"x": {"datum": 1.25}, "y": {"datum": 34.8}}},
     {"data": {"values": [{}]}, "mark": {"type": "text", "align": "left", "font": "DejaVu Sans Mono", "fontSize": 12, "color": "#333333", "text": ">1\u00a0\u00a0123.23000 MHz -0.7372 dB"}, "encoding": {"x": {"datum": 0.12}, "y": {"datum": 46.7}}},
     {"data": {"values": [{"x": 5, "y": -0.7372}]}, "mark": {"type": "point", "shape": "M-0.67,-2L0.67,-2L0,0Z", "size": 144, "filled": true, "fill": "white", "stroke": "#555555", "strokeWidth": 1, "opacity": 1}, "encoding": {"x": {"field": "x", "type": "quantitative"}, "y": {"field": "y", "type": "quantitative"}}},
     {"data": {"values": [{"x": 5, "y": -0.7372}]}, "mark": {"type": "text", "dy": -19, "font": "DejaVu Sans Mono", "fontSize": 11, "color": "#333333", "text": "1"}, "encoding": {"x": {"field": "x", "type": "quantitative"}, "y": {"field": "y", "type": "quantitative"}}},
     {"data": {"values": [{}]}, "mark": {"type": "point", "shape": "M-1.4,-1L0,0L-1.4,1Z", "size": 64, "filled": true, "color": "#000000", "opacity": 1}, "encoding": {"x": {"datum": 0}, "y": {"datum": 0}}},
     {"data": {"values": [{}]}, "mark": {"type": "point", "shape": "M-1,0L1,0L0,-1.2Z", "size": 64, "filled": true, "color": "#000000", "opacity": 1}, "encoding": {"x": {"datum": 5}, "y": {"datum": -50}}}
    ]},
   {"width": 227, "height": 13, "view": {"stroke": null},
    "layer": [
     {"data": {"values": [{}]}, "mark": {"type": "rect", "color": "#b2b2b2"}, "encoding": {"x": {"datum": 0, "scale": {"domain": [0, 1], "range": [-54, 226]}, "axis": null}, "x2": {"datum": 1}, "y": {"datum": 0, "scale": {"domain": [0, 1]}, "axis": null}, "y2": {"datum": 1}}},
     {"data": {"values": [{}]}, "mark": {"type": "text", "align": "left", "dx": 5, "font": "Liberation Sans", "fontSize": 11, "color": "#333333", "text": "Center 123.23 MHz"}, "encoding": {"x": {"datum": 0}, "y": {"datum": 0.5}}},
     {"data": {"values": [{}]}, "mark": {"type": "text", "align": "right", "dx": -2, "font": "Liberation Sans", "fontSize": 11, "color": "#333333", "text": "IFBW"}, "encoding": {"x": {"datum": 1}, "y": {"datum": 0.5}}}
    ]}
  ], "spacing": 3}
 ], "spacing": 1},
 {"hconcat": [
  {"vconcat": [
   {"width": 227, "height": 213,
    "layer": [
     {"data": {"name": "i"}, "mark": {"type": "line", "clip": true},
      "encoding": {"x": {"field": "x", "type": "quantitative", "scale": {"domain": [0, 10], "nice": false, "zero": false}, "axis": {"title": null}},
                   "y": {"field": "y", "type": "quantitative", "scale": {"domain": [-80, 20], "nice": false, "zero": false}, "axis": {"title": null, "labelColor": {"condition": {"test": "datum.value == -30", "value": "#1a1a1a"}, "value": "#8c8c8c"}}}}},
     {"data": {"values": [{}]}, "mark": {"type": "rect", "color": "#111111"}, "encoding": {"x": {"datum": -2.51}, "x2": {"datum": -1.55}, "y": {"datum": 29.4}, "y2": {"datum": 23.8}}},
     {"data": {"values": [{}]}, "mark": {"type": "text", "font": "DejaVu Sans Mono", "fontSize": 11.7, "fontWeight": "bold", "color": "#ffffff", "text": "Tr2"}, "encoding": {"x": {"datum": -2.03}, "y": {"datum": 26.6}}},
     {"data": {"values": [{}]}, "mark": {"type": "text", "align": "left", "font": "DejaVu Sans Mono", "fontSize": 11.7, "color": "#333333", "text": "S21 Log Mag 10.00 dB/ Ref -30.00 dB"}, "encoding": {"x": {"datum": -1.27}, "y": {"datum": 26.6}}},
     {"data": {"values": [{}]}, "mark": {"type": "text", "font": "Liberation Serif", "fontWeight": "bold", "fontSize": 21, "color": "#111111", "text": "(i)"}, "encoding": {"x": {"datum": 1.5}, "y": {"datum": 4.8}}},
     {"data": {"values": [{}]}, "mark": {"type": "text", "align": "left", "font": "DejaVu Sans Mono", "fontSize": 12, "color": "#333333", "text": ">1\u00a0\u00a0123.23000 MHz -44.251 dB"}, "encoding": {"x": {"datum": 0.12}, "y": {"datum": 16.7}}},
     {"data": {"values": [{"x": 5, "y": -44.251}]}, "mark": {"type": "point", "shape": "M-0.67,-2L0.67,-2L0,0Z", "size": 144, "filled": true, "fill": "white", "stroke": "#555555", "strokeWidth": 1, "opacity": 1}, "encoding": {"x": {"field": "x", "type": "quantitative"}, "y": {"field": "y", "type": "quantitative"}}},
     {"data": {"values": [{"x": 5, "y": -44.251}]}, "mark": {"type": "text", "dy": -19, "font": "DejaVu Sans Mono", "fontSize": 11, "color": "#333333", "text": "1"}, "encoding": {"x": {"field": "x", "type": "quantitative"}, "y": {"field": "y", "type": "quantitative"}}},
     {"data": {"values": [{}]}, "mark": {"type": "point", "shape": "M-1.4,-1L0,0L-1.4,1Z", "size": 64, "filled": true, "color": "#000000", "opacity": 1}, "encoding": {"x": {"datum": 0}, "y": {"datum": -30}}},
     {"data": {"values": [{}]}, "mark": {"type": "point", "shape": "M-1,0L1,0L0,-1.2Z", "size": 64, "filled": true, "color": "#000000", "opacity": 1}, "encoding": {"x": {"datum": 5}, "y": {"datum": -80}}}
    ]},
   {"width": 227, "height": 13, "view": {"stroke": null},
    "layer": [
     {"data": {"values": [{}]}, "mark": {"type": "rect", "color": "#b2b2b2"}, "encoding": {"x": {"datum": 0, "scale": {"domain": [0, 1], "range": [-54, 226]}, "axis": null}, "x2": {"datum": 1}, "y": {"datum": 0, "scale": {"domain": [0, 1]}, "axis": null}, "y2": {"datum": 1}}},
     {"data": {"values": [{}]}, "mark": {"type": "text", "align": "left", "dx": 5, "font": "Liberation Sans", "fontSize": 11, "color": "#333333", "text": "Center 123.23 MHz"}, "encoding": {"x": {"datum": 0}, "y": {"datum": 0.5}}},
     {"data": {"values": [{}]}, "mark": {"type": "text", "align": "right", "dx": -2, "font": "Liberation Sans", "fontSize": 11, "color": "#333333", "text": "IFBW"}, "encoding": {"x": {"datum": 1}, "y": {"datum": 0.5}}}
    ]}
  ], "spacing": 3},
  {"vconcat": [
   {"width": 227, "height": 213,
    "layer": [
     {"data": {"name": "j"}, "mark": {"type": "line", "clip": true},
      "encoding": {"x": {"field": "x", "type": "quantitative", "scale": {"domain": [0, 10], "nice": false, "zero": false}, "axis": {"title": null}},
                   "y": {"field": "y", "type": "quantitative", "scale": {"domain": [-80, 20], "nice": false, "zero": false}, "axis": {"title": null, "labelColor": {"condition": {"test": "datum.value == -30", "value": "#1a1a1a"}, "value": "#8c8c8c"}}}}},
     {"data": {"values": [{}]}, "mark": {"type": "rect", "color": "#111111"}, "encoding": {"x": {"datum": -2.51}, "x2": {"datum": -1.55}, "y": {"datum": 29.4}, "y2": {"datum": 23.8}}},
     {"data": {"values": [{}]}, "mark": {"type": "text", "font": "DejaVu Sans Mono", "fontSize": 11.7, "fontWeight": "bold", "color": "#ffffff", "text": "Tr2"}, "encoding": {"x": {"datum": -2.03}, "y": {"datum": 26.6}}},
     {"data": {"values": [{}]}, "mark": {"type": "text", "align": "left", "font": "DejaVu Sans Mono", "fontSize": 11.7, "color": "#333333", "text": "S21 Log Mag 10.00 dB/ Ref -30.00 dB"}, "encoding": {"x": {"datum": -1.27}, "y": {"datum": 26.6}}},
     {"data": {"values": [{}]}, "mark": {"type": "text", "font": "Liberation Serif", "fontWeight": "bold", "fontSize": 21, "color": "#111111", "text": "(j)"}, "encoding": {"x": {"datum": 1.3}, "y": {"datum": 4.8}}},
     {"data": {"values": [{}]}, "mark": {"type": "text", "align": "left", "font": "DejaVu Sans Mono", "fontSize": 12, "color": "#333333", "text": ">1\u00a0\u00a049.900000 MHz -45.559 dB"}, "encoding": {"x": {"datum": 0.12}, "y": {"datum": 16.7}}},
     {"data": {"values": [{"x": 5, "y": -45.559}]}, "mark": {"type": "point", "shape": "M-0.67,-2L0.67,-2L0,0Z", "size": 144, "filled": true, "fill": "white", "stroke": "#555555", "strokeWidth": 1, "opacity": 1}, "encoding": {"x": {"field": "x", "type": "quantitative"}, "y": {"field": "y", "type": "quantitative"}}},
     {"data": {"values": [{"x": 5, "y": -45.559}]}, "mark": {"type": "text", "dy": -19, "font": "DejaVu Sans Mono", "fontSize": 11, "color": "#333333", "text": "1"}, "encoding": {"x": {"field": "x", "type": "quantitative"}, "y": {"field": "y", "type": "quantitative"}}},
     {"data": {"values": [{}]}, "mark": {"type": "point", "shape": "M-1.4,-1L0,0L-1.4,1Z", "size": 64, "filled": true, "color": "#000000", "opacity": 1}, "encoding": {"x": {"datum": 0}, "y": {"datum": -30}}},
     {"data": {"values": [{}]}, "mark": {"type": "point", "shape": "M-1,0L1,0L0,-1.2Z", "size": 64, "filled": true, "color": "#000000", "opacity": 1}, "encoding": {"x": {"datum": 5}, "y": {"datum": -80}}}
    ]},
   {"width": 227, "height": 13, "view": {"stroke": null},
    "layer": [
     {"data": {"values": [{}]}, "mark": {"type": "rect", "color": "#b2b2b2"}, "encoding": {"x": {"datum": 0, "scale": {"domain": [0, 1], "range": [-54, 226]}, "axis": null}, "x2": {"datum": 1}, "y": {"datum": 0, "scale": {"domain": [0, 1]}, "axis": null}, "y2": {"datum": 1}}},
     {"data": {"values": [{}]}, "mark": {"type": "text", "align": "left", "dx": 5, "font": "Liberation Sans", "fontSize": 11, "color": "#333333", "text": "Center 49.9 MHz"}, "encoding": {"x": {"datum": 0}, "y": {"datum": 0.5}}},
     {"data": {"values": [{}]}, "mark": {"type": "text", "align": "right", "dx": -2, "font": "Liberation Sans", "fontSize": 11, "color": "#333333", "text": "IFBW"}, "encoding": {"x": {"datum": 1}, "y": {"datum": 0.5}}}
    ]}
  ], "spacing": 3},
  {"vconcat": [
   {"width": 227, "height": 213,
    "layer": [
     {"data": {"name": "k"}, "mark": {"type": "line", "clip": true},
      "encoding": {"x": {"field": "x", "type": "quantitative", "scale": {"domain": [0, 10], "nice": false, "zero": false}, "axis": {"title": null}},
                   "y": {"field": "y", "type": "quantitative", "scale": {"domain": [-80, 20], "nice": false, "zero": false}, "axis": {"title": null, "labelColor": {"condition": {"test": "datum.value == -30", "value": "#1a1a1a"}, "value": "#8c8c8c"}}}}},
     {"data": {"values": [{}]}, "mark": {"type": "rect", "color": "#111111"}, "encoding": {"x": {"datum": -2.51}, "x2": {"datum": -1.55}, "y": {"datum": 29.4}, "y2": {"datum": 23.8}}},
     {"data": {"values": [{}]}, "mark": {"type": "text", "font": "DejaVu Sans Mono", "fontSize": 11.7, "fontWeight": "bold", "color": "#ffffff", "text": "Tr2"}, "encoding": {"x": {"datum": -2.03}, "y": {"datum": 26.6}}},
     {"data": {"values": [{}]}, "mark": {"type": "text", "align": "left", "font": "DejaVu Sans Mono", "fontSize": 11.7, "color": "#333333", "text": "S21 Log Mag 10.00 dB/ Ref -30.00 dB"}, "encoding": {"x": {"datum": -1.27}, "y": {"datum": 26.6}}},
     {"data": {"values": [{}]}, "mark": {"type": "text", "font": "Liberation Serif", "fontWeight": "bold", "fontSize": 21, "color": "#111111", "text": "(k)"}, "encoding": {"x": {"datum": 1.35}, "y": {"datum": 4.8}}},
     {"data": {"values": [{}]}, "mark": {"type": "text", "align": "left", "font": "DejaVu Sans Mono", "fontSize": 12, "color": "#333333", "text": ">1\u00a0\u00a0123.23000 MHz -0.3166 dB"}, "encoding": {"x": {"datum": 0.12}, "y": {"datum": 16.7}}},
     {"data": {"values": [{"x": 5, "y": -0.3166}]}, "mark": {"type": "point", "shape": "M-0.67,-2L0.67,-2L0,0Z", "size": 144, "filled": true, "fill": "white", "stroke": "#555555", "strokeWidth": 1, "opacity": 1}, "encoding": {"x": {"field": "x", "type": "quantitative"}, "y": {"field": "y", "type": "quantitative"}}},
     {"data": {"values": [{"x": 5, "y": -0.3166}]}, "mark": {"type": "text", "dy": -19, "font": "DejaVu Sans Mono", "fontSize": 11, "color": "#333333", "text": "1"}, "encoding": {"x": {"field": "x", "type": "quantitative"}, "y": {"field": "y", "type": "quantitative"}}},
     {"data": {"values": [{}]}, "mark": {"type": "point", "shape": "M-1.4,-1L0,0L-1.4,1Z", "size": 64, "filled": true, "color": "#000000", "opacity": 1}, "encoding": {"x": {"datum": 0}, "y": {"datum": -30}}},
     {"data": {"values": [{}]}, "mark": {"type": "point", "shape": "M-1,0L1,0L0,-1.2Z", "size": 64, "filled": true, "color": "#000000", "opacity": 1}, "encoding": {"x": {"datum": 5}, "y": {"datum": -80}}}
    ]},
   {"width": 227, "height": 13, "view": {"stroke": null},
    "layer": [
     {"data": {"values": [{}]}, "mark": {"type": "rect", "color": "#b2b2b2"}, "encoding": {"x": {"datum": 0, "scale": {"domain": [0, 1], "range": [-54, 226]}, "axis": null}, "x2": {"datum": 1}, "y": {"datum": 0, "scale": {"domain": [0, 1]}, "axis": null}, "y2": {"datum": 1}}},
     {"data": {"values": [{}]}, "mark": {"type": "text", "align": "left", "dx": 5, "font": "Liberation Sans", "fontSize": 11, "color": "#333333", "text": "Center 123.23 MHz"}, "encoding": {"x": {"datum": 0}, "y": {"datum": 0.5}}},
     {"data": {"values": [{}]}, "mark": {"type": "text", "align": "right", "dx": -2, "font": "Liberation Sans", "fontSize": 11, "color": "#333333", "text": "IFBW"}, "encoding": {"x": {"datum": 1}, "y": {"datum": 0.5}}}
    ]}
  ], "spacing": 3},
  {"vconcat": [
   {"width": 227, "height": 213,
    "layer": [
     {"data": {"name": "l"}, "mark": {"type": "line", "clip": true},
      "encoding": {"x": {"field": "x", "type": "quantitative", "scale": {"domain": [0, 10], "nice": false, "zero": false}, "axis": {"title": null}},
                   "y": {"field": "y", "type": "quantitative", "scale": {"domain": [-80, 20], "nice": false, "zero": false}, "axis": {"title": null, "labelColor": {"condition": {"test": "datum.value == -30", "value": "#1a1a1a"}, "value": "#8c8c8c"}}}}},
     {"data": {"values": [{}]}, "mark": {"type": "rect", "color": "#111111"}, "encoding": {"x": {"datum": -2.51}, "x2": {"datum": -1.55}, "y": {"datum": 29.4}, "y2": {"datum": 23.8}}},
     {"data": {"values": [{}]}, "mark": {"type": "text", "font": "DejaVu Sans Mono", "fontSize": 11.7, "fontWeight": "bold", "color": "#ffffff", "text": "Tr2"}, "encoding": {"x": {"datum": -2.03}, "y": {"datum": 26.6}}},
     {"data": {"values": [{}]}, "mark": {"type": "text", "align": "left", "font": "DejaVu Sans Mono", "fontSize": 11.7, "color": "#333333", "text": "S21 Log Mag 10.00 dB/ Ref -30.00 dB"}, "encoding": {"x": {"datum": -1.27}, "y": {"datum": 26.6}}},
     {"data": {"values": [{}]}, "mark": {"type": "text", "font": "Liberation Serif", "fontWeight": "bold", "fontSize": 21, "color": "#111111", "text": "(l)"}, "encoding": {"x": {"datum": 1.55}, "y": {"datum": 4.8}}},
     {"data": {"values": [{}]}, "mark": {"type": "text", "align": "left", "font": "DejaVu Sans Mono", "fontSize": 12, "color": "#333333", "text": ">1\u00a0\u00a049.900000 MHz -0.1450 dB"}, "encoding": {"x": {"datum": 0.12}, "y": {"datum": 16.7}}},
     {"data": {"values": [{"x": 5, "y": -0.145}]}, "mark": {"type": "point", "shape": "M-0.67,-2L0.67,-2L0,0Z", "size": 144, "filled": true, "fill": "white", "stroke": "#555555", "strokeWidth": 1, "opacity": 1}, "encoding": {"x": {"field": "x", "type": "quantitative"}, "y": {"field": "y", "type": "quantitative"}}},
     {"data": {"values": [{"x": 5, "y": -0.145}]}, "mark": {"type": "text", "dy": -19, "font": "DejaVu Sans Mono", "fontSize": 11, "color": "#333333", "text": "1"}, "encoding": {"x": {"field": "x", "type": "quantitative"}, "y": {"field": "y", "type": "quantitative"}}},
     {"data": {"values": [{}]}, "mark": {"type": "point", "shape": "M-1.4,-1L0,0L-1.4,1Z", "size": 64, "filled": true, "color": "#000000", "opacity": 1}, "encoding": {"x": {"datum": 0}, "y": {"datum": -30}}},
     {"data": {"values": [{}]}, "mark": {"type": "point", "shape": "M-1,0L1,0L0,-1.2Z", "size": 64, "filled": true, "color": "#000000", "opacity": 1}, "encoding": {"x": {"datum": 5}, "y": {"datum": -80}}}
    ]},
   {"width": 227, "height": 13, "view": {"stroke": null},
    "layer": [
     {"data": {"values": [{}]}, "mark": {"type": "rect", "color": "#b2b2b2"}, "encoding": {"x": {"datum": 0, "scale": {"domain": [0, 1], "range": [-54, 226]}, "axis": null}, "x2": {"datum": 1}, "y": {"datum": 0, "scale": {"domain": [0, 1]}, "axis": null}, "y2": {"datum": 1}}},
     {"data": {"values": [{}]}, "mark": {"type": "text", "align": "left", "dx": 5, "font": "Liberation Sans", "fontSize": 11, "color": "#333333", "text": "Center 49.9 MHz"}, "encoding": {"x": {"datum": 0}, "y": {"datum": 0.5}}},
     {"data": {"values": [{}]}, "mark": {"type": "text", "align": "right", "dx": -2, "font": "Liberation Sans", "fontSize": 11, "color": "#333333", "text": "IFBW"}, "encoding": {"x": {"datum": 1}, "y": {"datum": 0.5}}}
    ]}
  ], "spacing": 3}
 ], "spacing": 1}
], "spacing": 9
}
